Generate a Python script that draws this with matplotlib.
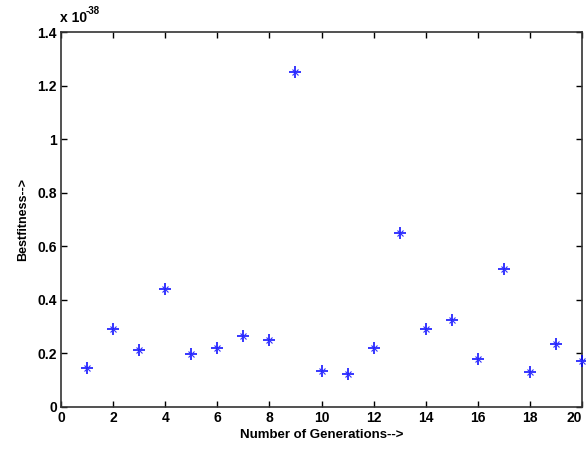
import matplotlib
matplotlib.use("Agg")
import matplotlib.pyplot as plt

generations = list(range(1, 21))
best_fitness = [0.144, 0.290, 0.213, 0.440, 0.199, 0.221, 0.264, 0.251, 1.250, 0.133,
                0.125, 0.221, 0.650, 0.290, 0.325, 0.178, 0.515, 0.131, 0.235, 0.171]
x_ticks = list(range(0, 21, 2))
y_ticks = [0, 0.2, 0.4, 0.6, 0.8, 1.0, 1.2, 1.4]
y_tick_labels = ["0", "0.2", "0.4", "0.6", "0.8", "1", "1.2", "1.4"]

plt.rcParams['font.family'] = ['Liberation Sans', 'DejaVu Sans']
plt.rcParams['font.weight'] = 'bold'

fig = plt.figure(figsize=(5.86, 4.5), dpi=100)
ax = fig.add_axes([61/586, 43/450, 521/586, 375/450])
ax.plot(generations, best_fitness, linestyle='none', marker='+', color='#0000ff',
        markersize=8, markeredgewidth=1.1, clip_on=False, zorder=3)
ax.plot(generations, best_fitness, linestyle='none', marker='x', color='#3333ff',
        markersize=4, markeredgewidth=0.8, clip_on=False, zorder=3)

ax.set_xlim(0, 20)
ax.set_ylim(0, 1.4)
ax.set_xticks(x_ticks)
ax.set_xticklabels([str(t) for t in x_ticks])
ax.set_yticks(y_ticks)
ax.set_yticklabels(y_tick_labels)
ax.tick_params(direction='in', top=True, right=True, length=4, width=1,
               labelsize=10, pad=3)
for lbl in ax.get_xticklabels() + ax.get_yticklabels():
    lbl.set_fontweight('bold')
ax.get_xticklabels()[-1].set_horizontalalignment('right')
for sp in ax.spines.values():
    sp.set_linewidth(1.2)
    sp.set_color('#333333')

ax.set_xlabel("Number of Generations-->", fontsize=9.5, fontweight='bold', labelpad=3)
ax.set_ylabel("Bestfitness-->", fontsize=9, fontweight='bold', labelpad=6)
fig.text(60/586, 1 - 22/450, "x 10", fontsize=10, fontweight='bold',
         ha='left', va='baseline')
fig.text(86/586, 1 - 14/450, "-38", fontsize=7, fontweight='bold',
         ha='left', va='baseline')

fig.savefig("out.png", dpi=100, facecolor='white')
